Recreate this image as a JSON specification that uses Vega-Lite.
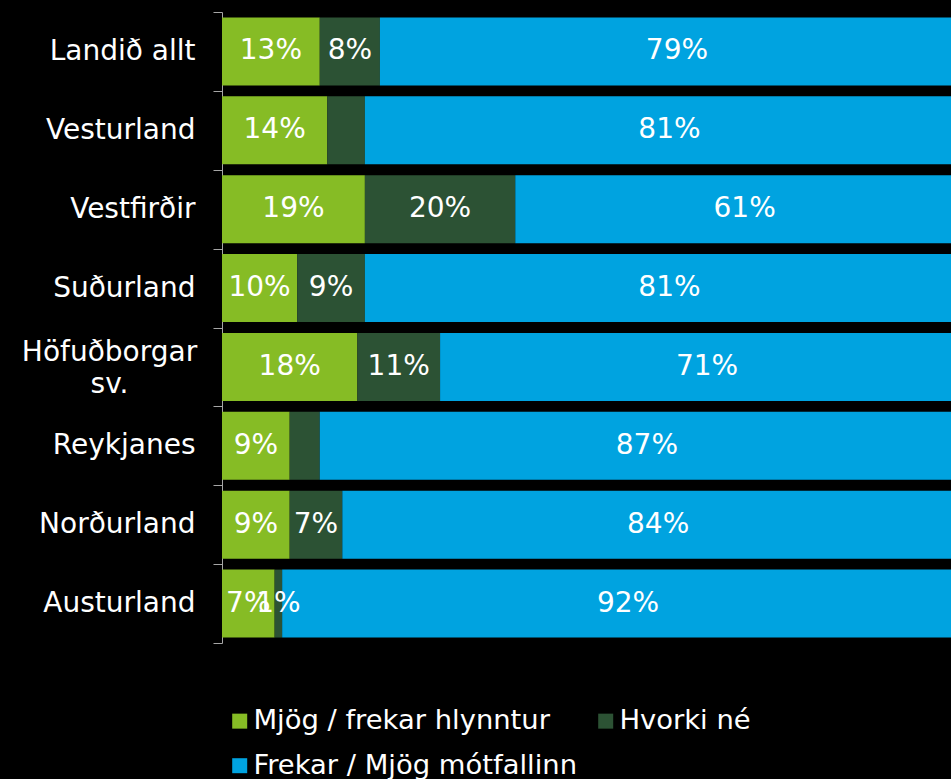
{
  "$schema": "https://vega.github.io/schema/vega-lite/v6.json",
  "width": 729,
  "height": 631,
  "autosize": {"type": "none"},
  "padding": {"left": 222, "top": 12, "right": 0, "bottom": 136},
  "background": "#000000",
  "config": {"view": {"stroke": null}, "font": "DejaVu Sans"},
  "data": {
    "values": [
      {"region": "Landið allt", "cat": "Mjög / frekar hlynntur", "order": 1, "value": 13, "label": "13%"},
      {"region": "Landið allt", "cat": "Hvorki né", "order": 2, "value": 8, "label": "8%"},
      {"region": "Landið allt", "cat": "Frekar / Mjög mótfallinn", "order": 3, "value": 79, "label": "79%"},
      {"region": "Vesturland", "cat": "Mjög / frekar hlynntur", "order": 1, "value": 14, "label": "14%"},
      {"region": "Vesturland", "cat": "Hvorki né", "order": 2, "value": 5, "label": ""},
      {"region": "Vesturland", "cat": "Frekar / Mjög mótfallinn", "order": 3, "value": 81, "label": "81%"},
      {"region": "Vestfirðir", "cat": "Mjög / frekar hlynntur", "order": 1, "value": 19, "label": "19%"},
      {"region": "Vestfirðir", "cat": "Hvorki né", "order": 2, "value": 20, "label": "20%"},
      {"region": "Vestfirðir", "cat": "Frekar / Mjög mótfallinn", "order": 3, "value": 61, "label": "61%"},
      {"region": "Suðurland", "cat": "Mjög / frekar hlynntur", "order": 1, "value": 10, "label": "10%"},
      {"region": "Suðurland", "cat": "Hvorki né", "order": 2, "value": 9, "label": "9%"},
      {"region": "Suðurland", "cat": "Frekar / Mjög mótfallinn", "order": 3, "value": 81, "label": "81%"},
      {"region": "Höfuðborgar sv.", "cat": "Mjög / frekar hlynntur", "order": 1, "value": 18, "label": "18%"},
      {"region": "Höfuðborgar sv.", "cat": "Hvorki né", "order": 2, "value": 11, "label": "11%"},
      {"region": "Höfuðborgar sv.", "cat": "Frekar / Mjög mótfallinn", "order": 3, "value": 71, "label": "71%"},
      {"region": "Reykjanes", "cat": "Mjög / frekar hlynntur", "order": 1, "value": 9, "label": "9%"},
      {"region": "Reykjanes", "cat": "Hvorki né", "order": 2, "value": 4, "label": ""},
      {"region": "Reykjanes", "cat": "Frekar / Mjög mótfallinn", "order": 3, "value": 87, "label": "87%"},
      {"region": "Norðurland", "cat": "Mjög / frekar hlynntur", "order": 1, "value": 9, "label": "9%"},
      {"region": "Norðurland", "cat": "Hvorki né", "order": 2, "value": 7, "label": "7%"},
      {"region": "Norðurland", "cat": "Frekar / Mjög mótfallinn", "order": 3, "value": 84, "label": "84%"},
      {"region": "Austurland", "cat": "Mjög / frekar hlynntur", "order": 1, "value": 7, "label": "7%"},
      {"region": "Austurland", "cat": "Hvorki né", "order": 2, "value": 1, "label": "1%"},
      {"region": "Austurland", "cat": "Frekar / Mjög mótfallinn", "order": 3, "value": 92, "label": "92%"}
    ]
  },
  "transform": [
    {"stack": "value", "groupby": ["region"], "sort": [{"field": "order", "order": "ascending"}], "as": ["x0", "x1"]},
    {"calculate": "(datum.x0 + datum.x1) / 2", "as": "xm"}
  ],
  "encoding": {
    "y": {
      "field": "region",
      "type": "nominal",
      "sort": ["Landið allt", "Vesturland", "Vestfirðir", "Suðurland", "Höfuðborgar sv.", "Reykjanes", "Norðurland", "Austurland"],
      "scale": {"paddingInner": 0, "paddingOuter": 0},
      "axis": {
        "title": null,
        "domainColor": "#A6A6A6",
        "tickColor": "#A6A6A6",
        "tickSize": 9,
        "tickBand": "extent",
        "labelColor": "#FFFFFF",
        "labelFontSize": 28,
        "labelLimit": 0,
        "labelLineHeight": 32,
        "labelExpr": "datum.value === 'Höfuðborgar sv.' ? ['Höfuðborgar', 'sv.'] : datum.label",
        "labelAlign": {"condition": {"test": "datum.value === 'Höfuðborgar sv.'", "value": "center"}, "value": "right"},
        "labelPadding": {"condition": {"test": "datum.value === 'Höfuðborgar sv.'", "value": 104}, "value": 18},
        "labelOffset": {"condition": {"test": "datum.value === 'Höfuðborgar sv.'", "value": -14}, "value": 0}
      }
    }
  },
  "layer": [
    {
      "mark": {"type": "bar", "clip": true, "height": {"band": 0.862}},
      "encoding": {
        "x": {"field": "x0", "type": "quantitative", "scale": {"domain": [0, 96.94], "nice": false}, "axis": null},
        "x2": {"field": "x1"},
        "color": {
          "field": "cat",
          "type": "nominal",
          "scale": {
            "domain": ["Mjög / frekar hlynntur", "Hvorki né", "Frekar / Mjög mótfallinn"],
            "range": ["#86BC25", "#2C5234", "#00A3E0"]
          },
          "legend": {
            "orient": "none",
            "legendX": 4,
            "legendY": 695,
            "padding": 0,
            "direction": "horizontal",
            "columns": 2,
            "title": null,
            "symbolType": "square",
            "symbolSize": 225,
            "symbolStrokeWidth": 0,
            "symbolOpacity": 1,
            "labelColor": "#FFFFFF",
            "labelFontSize": 27.4,
            "labelLimit": 0,
            "labelOffset": 0,
            "columnPadding": 15,
            "rowPadding": 16
          }
        }
      }
    },
    {
      "mark": {"type": "text", "color": "#FFFFFF", "fontSize": 28, "clip": true},
      "encoding": {
        "x": {"field": "xm", "type": "quantitative"},
        "text": {"field": "label"}
      }
    }
  ]
}
